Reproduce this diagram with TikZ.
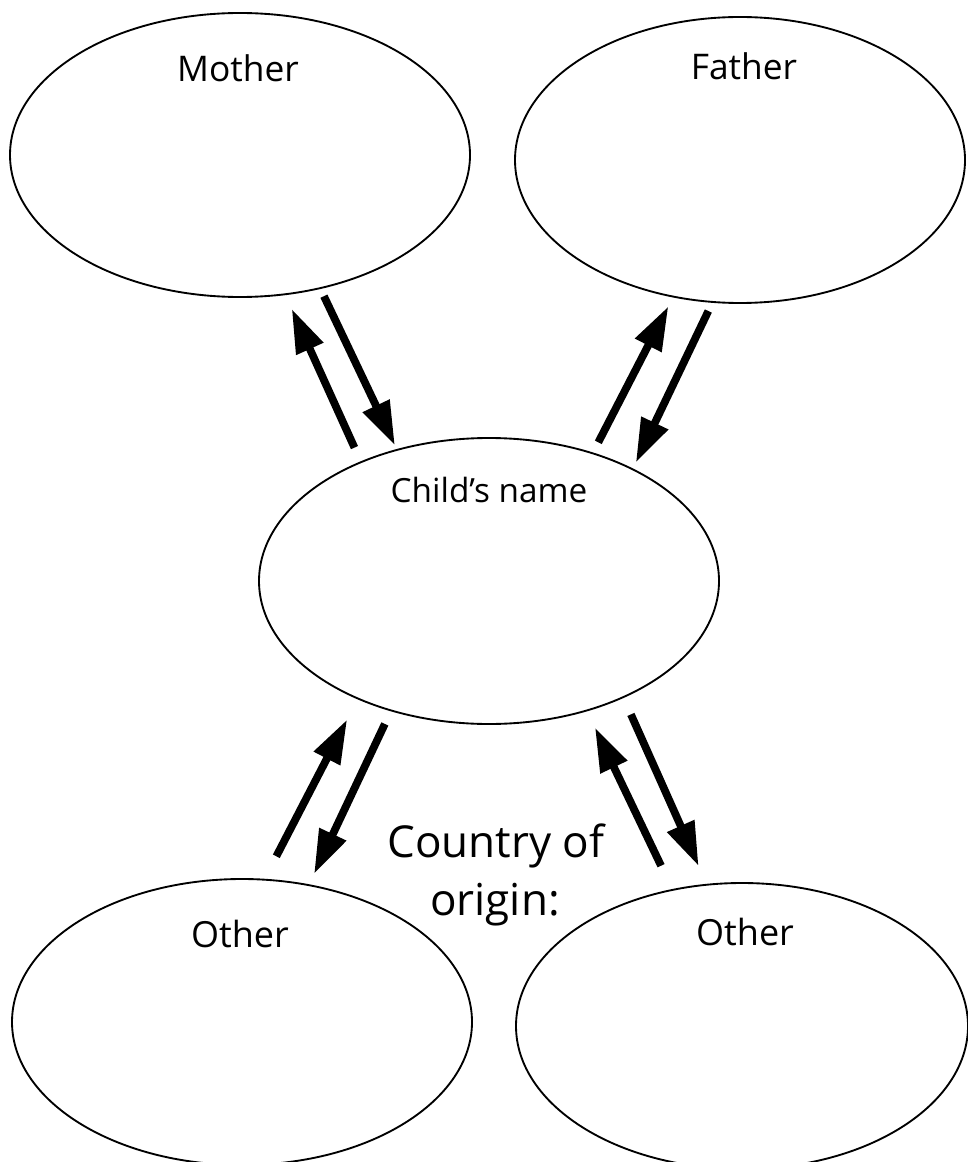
\documentclass[tikz,border=0pt]{standalone}
\usepackage{fontspec}
\setmainfont{Open Sans}
\usetikzlibrary{shapes.geometric, arrows.meta}

\begin{document}
\begin{tikzpicture}[x=0.75pt, y=-0.75pt,
          blob/.style 2 args = {ellipse, draw, line width=1.4pt,
                         minimum width=#1, minimum height=#2,
                         inner sep=0pt},
           tag/.style = {font=\fontsize{#1}{#1}\selectfont,
                         anchor=base, inner sep=0pt},
          link/.style = {-{Triangle[length=33pt, width=21pt]},
                         line width=5.8pt}
                        ]
\useasboundingbox (0,0) rectangle (967,1162);
% Draw the family ellipses
\node[blob={345pt}{213pt}]    (M) at (240,155)  {};
\node[blob={337.5pt}{214.5pt}] (F) at (740,160)  {};
\node[blob={345pt}{214.5pt}]  (C) at (489,581)  {};
\node[blob={345pt}{214.5pt}]  (L) at (242,1022) {};
\node[blob={339pt}{214.5pt}]  (R) at (742,1026) {};
% Draw the titles
\node[tag=26.5] (M-t) at (238,82)  {Mother};
\node[tag=26.5] (F-t) at (744,80)  {Father};
\node[tag=25]   (C-t) at (489,502) {Child’s name};
\node[tag=27]   (L-t) at (240,947) {Other};
\node[tag=27]   (R-t) at (745,945) {Other};
\node[tag=33]   (O-1) at (496,857) {Country of};
\node[tag=33]   (O-2) at (495,915) {origin:};
% Connect the child with the others, both ways
\foreach \a/\b/\s/\e in {C.137/M.-72.6/11.3/11.3, M.-59/C.125/6/3,
                         C.51/F.-116.7/8.6/7.5,    F.-101.6/C.38.7/6.8/4.9,
                         L.81.4/C.-138.7/19/17,    C.-127.1/L.64.2/10.5/8.6,
                         R.117.6/C.-53.5/19.4/13.5, C.-41.8/R.104.2/13.5/14.6}
{
    \draw[link, shorten <=\s pt, shorten >=\e pt] (\a) -- (\b);
}
\end{tikzpicture}
\end{document}
